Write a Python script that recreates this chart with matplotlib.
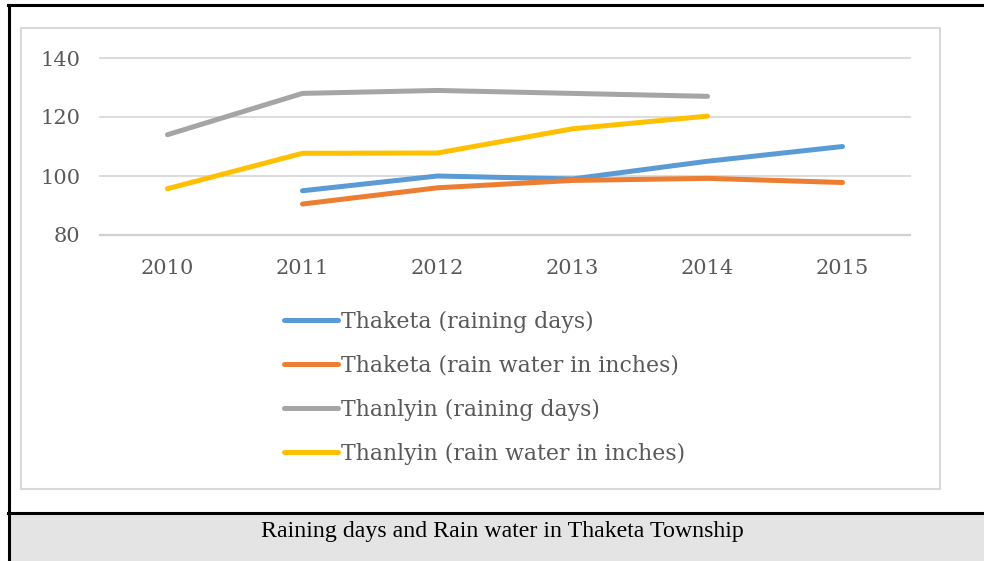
import matplotlib.pyplot as plt
from matplotlib.patches import Rectangle
from matplotlib.lines import Line2D

years = [2010, 2011, 2012, 2013, 2014, 2015]
thaketa_days = [None, 95, 100, 99, 105, 110]
thaketa_rain = [None, 90.5, 96, 98.5, 99.2, 97.8]
thanlyin_days = [114, 128, 129, 128, 127, None]
thanlyin_rain = [95.7, 107.7, 107.8, 116, 120.3, None]

labels = ["Thaketa (raining days)", "Thaketa (rain water in inches)",
          "Thanlyin (raining days)", "Thanlyin (rain water in inches)"]
colors = ["#5B9BD5", "#ED7D31", "#A5A5A5", "#FFC000"]
series = [thaketa_days, thaketa_rain, thanlyin_days, thanlyin_rain]

W, H = 984, 561
fig = plt.figure(figsize=(W / 100, H / 100), dpi=100)


def fx(px):
    return px / W


def fy(py):
    return 1 - py / H


# outer page-like frame and caption box
fig.add_artist(Rectangle((fx(10), 0), fx(984 - 10), fy(513) - 0, transform=fig.transFigure,
                         facecolor="#e4e4e4", edgecolor="none"))
fig.add_artist(Line2D([fx(9), fx(9)], [fy(5), 0], transform=fig.transFigure, color="black", lw=2.2))
fig.add_artist(Line2D([fx(8), 1], [fy(5), fy(5)], transform=fig.transFigure, color="black", lw=2.2))
fig.add_artist(Line2D([fx(8), 1], [fy(513), fy(513)], transform=fig.transFigure, color="black", lw=2.2))
fig.text(fx(502), fy(531), "Raining days and Rain water in Thaketa Township",
         family="Liberation Serif", fontsize=17.2, ha="center", va="center", color="black")

# chart area border
fig.add_artist(Rectangle((fx(21), fy(489)), fx(940 - 21), fy(28) - fy(489), transform=fig.transFigure,
                         facecolor="none", edgecolor="#d9d9d9", lw=1.5))

ax = fig.add_axes([fx(100), fy(235), fx(910 - 100), fy(58) - fy(235)])
for s, c, lab in zip(series, colors, labels):
    xs = [y for y, v in zip(years, s) if v is not None]
    vs = [v for v in s if v is not None]
    ax.plot(xs, vs, color=c, lw=3.6, solid_capstyle="round", solid_joinstyle="round", label=lab, zorder=3)

ax.set_xlim(2009.5, 2015.5)
ax.set_ylim(80, 140)
ax.set_yticks([80, 100, 120, 140])
ax.set_xticks(years)
for sp in ax.spines.values():
    sp.set_visible(False)
ax.grid(axis="y", color="#d9d9d9", lw=1.3, zorder=0)
ax.set_axisbelow(True)
for gl in ax.get_ygridlines():
    gl.set_clip_on(False)
ax.axhline(80, color="#d0d0d0", lw=1.6, zorder=1, clip_on=False)
ax.tick_params(length=0, labelsize=15, labelcolor="#595959")
ax.tick_params(axis="x", pad=17)
ax.tick_params(axis="y", pad=14)
for t in ax.get_xticklabels() + ax.get_yticklabels():
    t.set_family("DejaVu Serif")

leg = fig.legend(loc="upper left", bbox_to_anchor=(fx(275), fy(302)), frameon=False,
                 prop={"family": "DejaVu Serif", "size": 15.8}, labelcolor="#595959",
                 handlelength=2.45, handletextpad=0.18, labelspacing=1.0, borderaxespad=0)
for h in leg.legend_handles:
    h.set_linewidth(3.6)

fig.savefig("out.png", dpi=100)
